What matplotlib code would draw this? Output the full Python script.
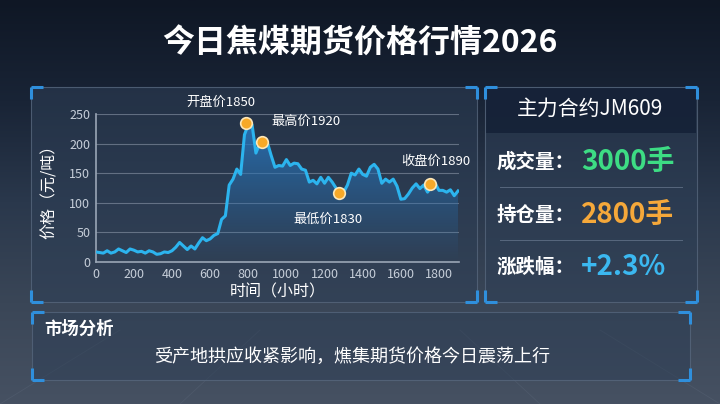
import numpy as np
import matplotlib
matplotlib.use("Agg")
import matplotlib.pyplot as plt
from matplotlib.patches import Rectangle, Polygon
from matplotlib.colors import LinearSegmentedColormap

plt.rcParams['font.family'] = ['Noto Sans CJK SC', 'DejaVu Sans']

# ---------------- data ----------------
hours = list(range(0, 1901, 20))
prices = [17, 16, 15, 19, 15, 17, 22, 19, 16, 22,
          20, 17, 18, 15, 19, 17, 13, 14, 17, 16,
          19, 25, 33, 27, 21, 27, 22, 32, 41, 36,
          39, 45, 48, 72, 78, 130, 140, 157, 148, 215,
          232, 232, 184, 200, 200, 202, 180, 160, 163, 162,
          173, 163, 167, 166, 157, 155, 135, 138, 132, 143,
          133, 143, 135, 125, 118, 118, 130, 150, 147, 157,
          148, 145, 160, 165, 157, 133, 140, 135, 140, 128,
          106, 107, 115, 125, 132, 124, 130, 118, 128, 133,
          121, 121, 118, 122, 112, 120]
marker_labels = ['开盘价1850', '最高价1920', '最低价1830', '收盘价1890']
marker_x = [789, 871, 1277, 1754]
marker_y = [234, 202, 117, 132]
label_offsets = [(-18, 15), (32, 15), (-8, -19), (4, 16)]

title = '今日焦煤期货价格行情2026'
contract = '主力合约JM609'
stat_labels = ['成交量：', '持仓量：', '涨跌幅：']
stat_values = ['3000手', '2800手', '+2.3%']
stat_colors = ['#3ddc84', '#f5a83a', '#3bb8f0']
analysis_title = '市场分析'
analysis_text = '受产地拱应收紧影响，燋集期货价格今日震荡上行'
yticks = [0, 50, 100, 150, 200, 250]
xticks = list(range(0, 1801, 200))

W, H = 720, 404
fig = plt.figure(figsize=(7.2, 4.04), dpi=100)

# ---------------- background ----------------
bg = fig.add_axes([0, 0, 1, 1])
bg.set_xlim(0, W)
bg.set_ylim(H, 0)
bg.axis('off')
cmap_bg = LinearSegmentedColormap.from_list('bg', ['#0f1725', '#192436', '#2a384c', '#3a4657', '#465162'])
grad = np.linspace(0, 1, 256).reshape(-1, 1)
bg.imshow(grad, extent=[0, W, H, 0], cmap=cmap_bg, aspect='auto', zorder=0)
# faint perspective lines near the bottom
for x0, x1 in [(0, 120), (180, 260), (540, 460), (720, 600)]:
    bg.plot([x0, x1], [404, 330], color='#5a6678', lw=0.6, alpha=0.4, zorder=0.5)

def panel(x0, y0, x1, y1, face='#2e3f56', alpha=0.55, corner=12):
    bg.add_patch(Rectangle((x0, y0), x1 - x0, y1 - y0, facecolor=face, alpha=alpha,
                           edgecolor='none', zorder=1))
    bg.add_patch(Rectangle((x0, y0), x1 - x0, y1 - y0, facecolor='none',
                           edgecolor='#56667c', lw=0.8, alpha=0.8, zorder=2))
    c = '#2f8fdc'
    for (cx, cy, dx, dy) in [(x0, y0, 1, 1), (x1, y0, -1, 1), (x0, y1, 1, -1), (x1, y1, -1, -1)]:
        bg.plot([cx, cx + dx * corner], [cy, cy], color=c, lw=2.2, zorder=3, solid_capstyle='butt')
        bg.plot([cx, cx], [cy, cy + dy * corner], color=c, lw=2.2, zorder=3, solid_capstyle='butt')

panel(31, 87, 477, 302)
panel(485, 87, 697, 302)
bg.add_patch(Rectangle((486, 88), 210, 45, facecolor='#142036', alpha=0.85, edgecolor='none', zorder=1.5))
for yy in [187, 240]:
    bg.plot([500, 682], [yy, yy], color='#6a7a90', lw=0.7, alpha=0.7, zorder=2)
panel(32, 312, 690, 380)

# title
bg.text(360, 44, title, color='white', fontsize=23, fontweight='bold',
        ha='center', va='center', zorder=5)

# right panel texts
bg.text(590, 109, contract, color='white', fontsize=15, fontweight='medium',
        ha='center', va='center', zorder=5)
for i, yy in enumerate([162, 215, 267]):
    bg.text(497, yy, stat_labels[i], color='white', fontsize=14, fontweight='bold',
            ha='left', va='center', zorder=5)
    bg.text(581, yy, stat_values[i], color=stat_colors[i], fontsize=20, fontweight='bold',
            ha='left', va='center', zorder=5)

# bottom panel
bg.text(44, 329, analysis_title, color='white', fontsize=12.5, fontweight='bold',
        ha='left', va='center', zorder=5)
bg.text(352, 357, analysis_text, color='white', fontsize=13,
        ha='center', va='center', zorder=5)

# ---------------- chart ----------------
ax = fig.add_axes([95.7 / W, 1 - 262 / H, (459 - 95.7) / W, (262 - 114) / H])
ax.patch.set_alpha(0)
ax.set_xlim(0, 1905)
ax.set_ylim(0, 250)

x = np.array(hours)
y = np.array(prices)

# gradient fill under curve
cmap_fill = LinearSegmentedColormap.from_list('fill', [(0.16, 0.42, 0.66, 0.0), (0.16, 0.47, 0.75, 0.9)])
img = ax.imshow(np.linspace(0, 1, 256).reshape(-1, 1), extent=[0, 1905, 0, 240],
                origin='lower', cmap=cmap_fill, aspect='auto', zorder=1)
poly = Polygon(np.column_stack([np.r_[x[0], x, x[-1]], np.r_[0, y, 0]]), closed=True,
               facecolor='none', edgecolor='none', transform=ax.transData)
ax.add_patch(poly)
img.set_clip_path(poly)

ax.plot(x, y, color='#2cb4ee', lw=2.2, zorder=3, solid_joinstyle='round')

ax.scatter(marker_x, marker_y, s=70, color='#f7a928', edgecolor='#fde7b8', linewidth=1.2, zorder=4)
for lab, mx, my, (dx, dy) in zip(marker_labels, marker_x, marker_y, label_offsets):
    ax.annotate(lab, (mx, my), xytext=(dx, dy), textcoords='offset points',
                ha='center', va='center', color='white', fontsize=9.5, zorder=5)

ax.set_yticks(yticks)
ax.set_xticks(xticks)
ax.grid(axis='y', color='#8a96a8', lw=0.8, alpha=0.6)
ax.set_axisbelow(True)
for s in ['top', 'right']:
    ax.spines[s].set_visible(False)
for s in ['left', 'bottom']:
    ax.spines[s].set_color('#9aa6b6')
    ax.spines[s].set_linewidth(1.2)
ax.tick_params(colors='#c6ced9', labelsize=9, length=0, pad=4)
ax.set_xlabel('时间（小时）', color='white', fontsize=11.5, fontweight='medium', labelpad=2)
ax.set_ylabel('价格（元/吨）', color='white', fontsize=11.5, fontweight='medium', labelpad=8)

fig.savefig('out.png', dpi=100)
